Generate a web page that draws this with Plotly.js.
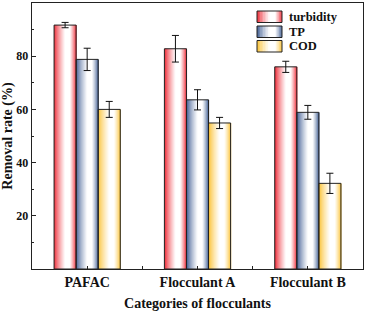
<!DOCTYPE html>
<html>
<head>
<meta charset="utf-8">
<script src="https://cdn.plot.ly/plotly-3.0.1.min.js"></script>
<style>html,body{margin:0;padding:0;background:#fff;}#chart{width:366px;height:311px;}</style>
</head>
<body>
<div id="chart"></div>
<script>
const categories = ['PAFAC', 'Flocculant A', 'Flocculant B'];
const seriesNames = ['turbidity', 'TP', 'COD'];
const turbidity = [91.7, 82.8, 76.0];
const turbidityErr = [1.0, 5.0, 2.1];
const tp = [78.8, 63.6, 58.9];
const tpErr = [4.2, 3.8, 2.6];
const cod = [60.0, 54.9, 32.2];
const codErr = [3.0, 2.1, 3.8];
const yTicks = [20, 40, 60, 80];

const values = [turbidity, tp, cod];
const errs = [turbidityErr, tpErr, codErr];
const baseColors = [[236, 28, 40], [52, 84, 140], [250, 190, 40]];
const FONT = 'Liberation Serif, Times New Roman, serif';
const xPos = categories.map((c, i) => i);

const N = 22;
const barW = 0.2;
const groupStart = -0.3;

function shade(base, t) {
  // mirrored gradient: color at edges, white plateau around 0.6
  let f;
  if (t < 0.5) f = t / 0.5;
  else if (t < 0.72) f = 1;
  else f = (1 - t) / 0.28;
  f = Math.min(1, Math.max(0, f));
  f = Math.pow(f, 0.75);
  const m = base.map(v => Math.round(v + (255 - v) * f));
  return 'rgb(' + m.join(',') + ')';
}

const traces = [];
values.forEach((vals, s) => {
  const off = groupStart + barW * s;
  for (let k = 0; k < N; k++) {
    const t = (k + 0.5) / N;
    traces.push({
      type: 'bar', x: xPos, y: vals,
      width: barW / N * 1.6,
      offset: off + k * barW / N,
      marker: { color: shade(baseColors[s], t), line: { width: 0 } },
      showlegend: false, hoverinfo: 'skip'
    });
  }
});
values.forEach((vals, s) => {
  traces.push({
    type: 'bar', x: xPos, y: vals, name: seriesNames[s],
    width: barW, offset: groupStart + barW * s,
    marker: { color: 'rgba(0,0,0,0)', line: { color: '#222', width: 1 } },
    error_y: { type: 'data', array: errs[s], visible: true, color: '#111', thickness: 1, width: 3.5 },
    showlegend: false
  });
});

// custom gradient legend
const shapes = [];
const annotations = [];
const plotL = 32, plotT = 3, plotW = 331, plotH = 266;
const px2x = p => (p - plotL) / plotW;
const py2y = p => (plotT + plotH - p) / plotH;
const legTop = [11, 26, 40.5];
seriesNames.forEach((nm, s) => {
  const x0 = 257, x1 = 282, y0 = legTop[s], y1 = legTop[s] + 11.5;
  const M = 16;
  for (let k = 0; k < M; k++) {
    const t = (k + 0.5) / M;
    const a = x0 + (x1 - x0) * k / M;
    const b = Math.min(x1, x0 + (x1 - x0) * (k + 1.3) / M);
    shapes.push({
      type: 'rect', xref: 'paper', yref: 'paper',
      x0: px2x(a), x1: px2x(b),
      y0: py2y(y1), y1: py2y(y0),
      fillcolor: shade(baseColors[s], t), line: { width: 0 }
    });
  }
  shapes.push({
    type: 'rect', xref: 'paper', yref: 'paper',
    x0: px2x(x0), x1: px2x(x1), y0: py2y(y1), y1: py2y(y0),
    fillcolor: 'rgba(0,0,0,0)', line: { color: '#222', width: 1 }
  });
  annotations.push({
    xref: 'paper', yref: 'paper', x: px2x(287), y: py2y(y0 + 5.75),
    xanchor: 'left', yanchor: 'middle', showarrow: false,
    text: '<b>' + nm + '</b>', font: { family: FONT, size: 12.5, color: '#111' }
  });
});

const layout = {
  width: 366, height: 311,
  margin: { l: 32, r: 3, t: 3, b: 42 },
  paper_bgcolor: '#fff', plot_bgcolor: '#fff',
  barmode: 'overlay',
  showlegend: false,
  font: { family: FONT, color: '#111' },
  xaxis: {
    range: [-0.5, 2.5],
    tickmode: 'array',
    tickvals: [0, 0.5, 1, 1.5, 2],
    ticktext: categories.flatMap((c, i) => i < categories.length - 1 ? ['<b>' + c + '</b>', ''] : ['<b>' + c + '</b>']),
    ticks: 'inside', ticklen: 3, tickwidth: 1, tickcolor: '#222',
    showline: true, mirror: true, linecolor: '#222', linewidth: 1.3,
    showgrid: false, zeroline: false,
    tickfont: { family: FONT, size: 14, color: '#111' },
    title: { text: '<b>Categories of flocculants</b>', font: { family: FONT, size: 14, color: '#111' }, standoff: 9 }
  },
  yaxis: {
    range: [0, 100],
    tickmode: 'array', tickvals: yTicks,
    ticktext: yTicks.map(v => '<b>' + v + '</b>'),
    ticks: 'inside', ticklen: 4, tickwidth: 1, tickcolor: '#222',
    minor: { tickmode: 'array', tickvals: [10, 30, 50, 70, 90], ticks: 'inside', ticklen: 2, tickcolor: '#222' },
    showline: true, mirror: true, linecolor: '#222', linewidth: 1.3,
    showgrid: false, zeroline: false,
    tickfont: { family: FONT, size: 12, color: '#111' },
    title: { text: '<b>Removal rate (%)</b>', font: { family: FONT, size: 14, color: '#111' }, standoff: 5 }
  },
  shapes: shapes,
  annotations: annotations
};

Plotly.newPlot('chart', traces, layout, { staticPlot: true, displayModeBar: false });
</script>
</body>
</html>
